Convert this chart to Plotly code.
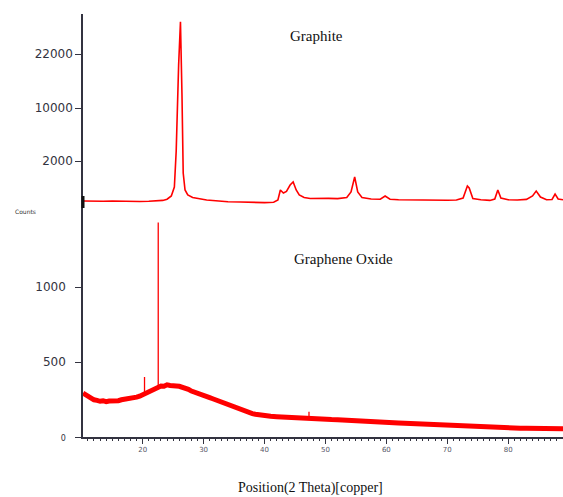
import plotly.graph_objects as go

# ---------------- data ----------------
# Graphite XRD (top panel, arbitrary display units)
graphite_2theta = [10.3, 11.5, 12.5, 13.5, 15, 16.5, 18, 19.5, 21, 22.5, 23.3, 24, 24.7, 25.2,
                   25.5, 25.9, 26.2, 26.45, 26.65, 26.95, 27.4, 28.2, 29, 30.5, 32, 34, 36,
                   38, 40, 41.5, 42.2, 42.6, 43.1, 43.6, 44.2, 44.7, 45.2, 45.7, 46.5, 47.5,
                   49, 50.5, 52, 53.5, 54.2, 54.8, 55.3, 56, 57.5, 59, 59.8, 60.6, 62, 64,
                   66, 68, 70, 71.5, 72.6, 73.3, 73.6, 74.2, 75.5, 77, 77.8, 78.3, 78.8,
                   80, 81.5, 83, 84, 84.6, 85.3, 86.3, 87.2, 87.7, 88.2, 89]
graphite_int = [60, 58, 62, 57, 60, 56, 58, 55, 58, 62, 66, 78, 110, 200,
                560, 1420, 1853, 1120, 340, 170, 120, 95, 85, 70, 62, 52, 50,
                45, 44, 48, 70, 170, 140, 155, 220, 250, 170, 120, 95, 85,
                82, 86, 84, 95, 150, 300, 150, 95, 80, 78, 110, 78, 72, 70,
                66, 70, 68, 70, 90, 210, 190, 85, 72, 66, 80, 170, 90,
                72, 70, 76, 110, 160, 100, 72, 75, 130, 80, 72]

# Graphene oxide XRD (bottom panel, counts) - broad noisy band
go_2theta = [10.2, 10.6, 11, 11.5, 12, 12.5, 13, 13.5, 14, 14.5, 15, 15.5, 16, 16.5, 17, 17.5,
             18, 18.5, 19, 19.5, 20, 20.5, 21, 21.5, 22, 22.5, 23, 23.5, 24, 24.5, 25, 25.5,
             26, 26.5, 27, 27.5, 28, 28.5, 29, 29.5, 30, 30.5, 31, 31.5, 32, 32.5, 33, 33.5,
             34, 34.5, 35, 35.5, 36, 36.5, 37, 37.5, 38, 38.5, 39, 39.5,
             40, 41, 42, 43, 44, 45, 46, 47, 48, 49, 50, 51, 52, 53, 54,
             55, 56, 57, 58, 59, 60, 61, 62, 63, 64, 65, 66, 67, 68, 69, 70, 71, 72,
             73, 74, 75, 76, 77, 78, 79, 80, 81, 82, 83, 84, 85, 86, 87, 88, 89]
go_counts = [292, 280, 268, 258, 248, 244, 238, 242, 236, 240, 238, 244, 242, 248, 250, 254,
             256, 262, 266, 272, 282, 290, 300, 312, 322, 332, 340, 338, 348, 344, 346, 340,
             338, 334, 326, 318, 306, 300, 292, 284, 276, 270, 262, 255, 247, 240, 230, 222,
             212, 204, 196, 188, 180, 172, 166, 160, 156, 152, 148, 145,
             141, 138, 135, 132, 130, 128, 127, 126, 122, 120, 118, 116, 115, 112, 110,
             108, 106, 104, 102, 100, 98, 95, 93, 91, 89, 86, 84, 82, 80, 78, 76, 74, 71,
             69, 67, 66, 64, 63, 62, 62, 60, 60, 59, 58, 58, 57, 57, 56, 55, 55]

# sharp reflections / spikes of graphene oxide
go_peak_2theta = [20.3, 20.3, None, 22.55, 22.55, None, 47.3, 47.3]
go_peak_counts = [290, 400, None, 340, 1430, None, 125, 168]

x_ticks = [20, 30, 40, 50, 60, 70, 80]
go_ticks = [0, 500, 1000]
go_ticktext = ['<span style="font-size:8px">0</span>', '500', '1000']
graphite_tickvals = [460, 990, 1530]
graphite_ticktext = ['2000', '10000', '22000']

RED = '#ff0000'
AX = '#333340'

fig = go.Figure()
fig.add_trace(go.Scatter(x=graphite_2theta, y=graphite_int, mode='lines',
                         line=dict(color=RED, width=1.6), xaxis='x', yaxis='y2'))
fig.add_trace(go.Scatter(x=go_2theta, y=go_counts, mode='lines',
                         line=dict(color=RED, width=5), xaxis='x', yaxis='y'))
fig.add_trace(go.Scatter(x=go_peak_2theta, y=go_peak_counts, mode='lines',
                         line=dict(color=RED, width=1.3), xaxis='x', yaxis='y'))

split = (437 - 207) / 423.0

fig.update_layout(
    width=563, height=497,
    margin=dict(l=83, r=0, t=14, b=60, autoexpand=False),
    paper_bgcolor='white', plot_bgcolor='white',
    showlegend=False,
    xaxis=dict(range=[10.2, 89], domain=[0, 1], anchor='y', automargin=False,
               showgrid=False, zeroline=False,
               showline=True, linecolor=AX, linewidth=1.5,
               tickvals=x_ticks, ticks='outside', ticklen=5, tickcolor=AX, tickwidth=1,
               tickfont=dict(family='DejaVu Sans', size=7, color='#556'),
               minor=dict(dtick=1, ticks='outside', ticklen=2, tickcolor=AX, tickwidth=1)),
    xaxis2=dict(range=[10.2, 89], matches='x', anchor='y2', side='top', overlaying='x',
                automargin=False,
                showgrid=False, zeroline=False, showticklabels=False, ticks='',
                showline=True, linecolor=AX, linewidth=1.5),
    yaxis=dict(range=[0, (437 - 207) / 0.15], domain=[0, split], anchor='x', automargin=False,
               showgrid=False, zeroline=False,
               showline=True, linecolor=AX, linewidth=1.5,
               tickvals=go_ticks, ticktext=go_ticktext,
               ticks='outside', ticklen=6, tickcolor=AX,
               ticklabelstandoff=7,
               tickfont=dict(family='DejaVu Sans', size=12, color=AX)),
    yaxis2=dict(range=[0, 1930], domain=[split, 1], anchor='x', automargin=False,
                showgrid=False, zeroline=False,
                showline=True, linecolor=AX, linewidth=1.5,
                tickvals=graphite_tickvals, ticktext=graphite_ticktext,
                ticks='outside', ticklen=6, tickcolor=AX,
                tickfont=dict(family='DejaVu Sans', size=12, color=AX)),
    annotations=[
        dict(text='Graphite', x=316, y=36, xref='paper', yref='paper', showarrow=False,
             xanchor='center', yanchor='middle',
             font=dict(family='Liberation Serif', size=15, color='#111')),
        dict(text='Graphene Oxide', x=343, y=259, xref='paper', yref='paper', showarrow=False,
             xanchor='center', yanchor='middle',
             font=dict(family='Liberation Serif', size=15, color='#111')),
        dict(text='Counts', x=25, y=211, xref='paper', yref='paper', showarrow=False,
             xanchor='center', yanchor='middle',
             font=dict(family='DejaVu Sans', size=6, color='#333')),
        dict(text='Position(2 Theta)[copper]', x=310, y=488, xref='paper', yref='paper',
             showarrow=False, xanchor='center', yanchor='middle',
             font=dict(family='Liberation Serif', size=14, color='#111')),
    ],
    shapes=[dict(type='line', xref='paper', yref='paper', x0=0, x1=0,
                 y0=(437 - 208) / 423.0, y1=(437 - 196) / 423.0,
                 line=dict(color='#111', width=3))],
)

# convert pixel-style annotation positions to paper coordinates
for a in fig.layout.annotations:
    a.x = (a.x - 83) / 480.0
    a.y = (437 - a.y) / 423.0

fig.write_html('out.html', config={'displayModeBar': False},
               post_script="document.body.style.margin='0';document.body.style.overflow='hidden';")
